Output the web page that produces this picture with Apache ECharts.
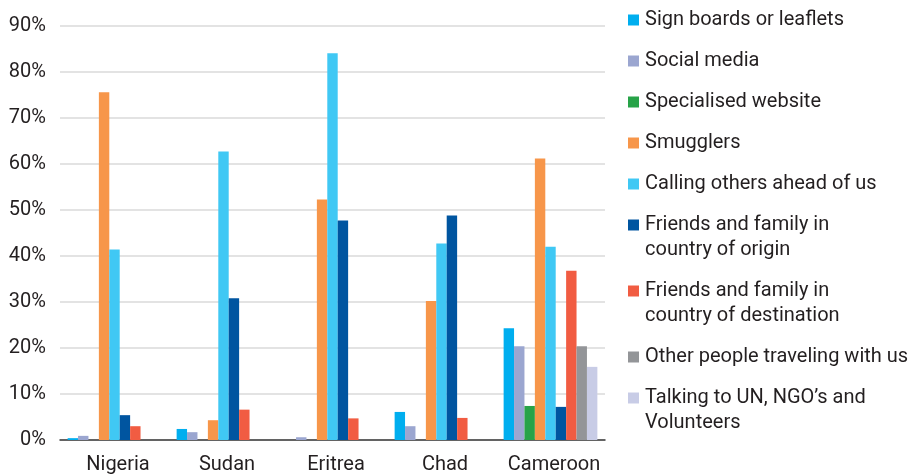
<!DOCTYPE html>
<html>
<head>
<meta charset="utf-8">
<script src="https://cdn.jsdelivr.net/npm/echarts@6/dist/echarts.min.js"></script>
<style>
  html, body { margin: 0; padding: 0; background: #fff; }
  #chart { width: 917px; height: 475px; }
</style>
</head>
<body>
<div id="chart"></div>
<script>
// Countries on the x axis
const countries = ['Nigeria', 'Sudan', 'Eritrea', 'Chad', 'Cameroon'];

// Information sources (legend order) and their labels as shown in the legend
const sourceNames = [
  'Sign boards or leaflets',
  'Social media',
  'Specialised website',
  'Smugglers',
  'Calling others ahead of us',
  'Friends and family in country of origin',
  'Friends and family in country of destination',
  'Other people traveling with us',
  "Talking to UN, NGO's and Volunteers"
];
const legendLines = [
  ['Sign boards or leaflets'],
  ['Social media'],
  ['Specialised website'],
  ['Smugglers'],
  ['Calling others ahead of us'],
  ['Friends and family in', 'country of origin'],
  ['Friends and family in', 'country of destination'],
  ['Other people traveling with us'],
  ['Talking to UN, NGO\u2019s and', 'Volunteers']
];

// Share of respondents (%) per source, one value per country
const signBoards     = [0.4, 2.4, 0,    6.1, 24.3];
const socialMedia    = [0.9, 1.7, 0.6,  3.0, 20.4];
const specialisedWeb = [0,   0,   0,    0,   7.4];
const smugglers      = [75.6, 4.3, 52.3, 30.2, 61.2];
const callingAhead   = [41.4, 62.7, 84.1, 42.7, 42.0];
const familyOrigin   = [5.4, 30.8, 47.7, 48.8, 7.2];
const familyDest     = [3.0, 6.6, 4.7,  4.8, 36.8];
const otherTravelers = [0,   0,   0,    0,   20.4];
const talkingUN      = [0,   0,   0,    0,   15.9];

// Y axis ticks
const yMin = 0, yMax = 90, yStep = 10;

const seriesValues = [signBoards, socialMedia, specialisedWeb, smugglers, callingAhead,
  familyOrigin, familyDest, otherTravelers, talkingUN];
const colors = ['#00AEEF', '#9BA6D0', '#27A348', '#F7964A', '#40C8F4',
  '#0055A0', '#F15C42', '#939598', '#C8CCE6'];

const font = 'Roboto';
const rich = { t: { fontFamily: font, fontSize: 20, color: '#231F20', lineHeight: 25, padding: [0, 0, 0, 6] },
               sp: { width: 11, height: 11 } };
colors.forEach((c, i) => { rich['sq' + i] = { width: 11, height: 11, backgroundColor: c }; });

const chart = echarts.init(document.getElementById('chart'), null, { renderer: 'canvas' });
chart.setOption({
  animation: false,
  color: colors,
  grid: { left: 60, right: 312, top: 26, bottom: 34 },
  legend: {
    orient: 'vertical',
    left: 623,
    top: 10,
    padding: 0,
    icon: 'none',
    itemWidth: 0,
    itemHeight: 10,
    itemGap: 21,
    selectedMode: false,
    data: sourceNames,
    formatter: function (name) {
      const i = sourceNames.indexOf(name);
      const lines = legendLines[i];
      return lines.map((l, k) => (k === 0 ? '{sq' + i + '|}' : '{sp|}') + '{t|' + l + '}').join('\n');
    },
    textStyle: { rich: rich, padding: 0 }
  },
  xAxis: {
    type: 'category',
    data: countries,
    axisTick: { show: false },
    axisLine: { lineStyle: { color: '#3a3a3a', width: 1.5 } },
    axisLabel: { interval: 0, fontFamily: font, fontSize: 20, color: '#231F20', margin: 15, padding: [0, 0, 0, 7] }
  },
  yAxis: {
    type: 'value',
    min: yMin, max: yMax, interval: yStep,
    axisLabel: { formatter: '{value}%', fontFamily: font, fontSize: 20, color: '#231F20', margin: 14 },
    splitLine: { lineStyle: { color: '#DADADA', width: 1.5 } },
    axisLine: { show: false },
    axisTick: { show: false }
  },
  series: seriesValues.map((vals, i) => ({
    name: sourceNames[i],
    type: 'bar',
    data: vals,
    barGap: '0%',
    barCategoryGap: '14%',
    itemStyle: { color: colors[i] }
  }))
});
</script>
</body>
</html>
